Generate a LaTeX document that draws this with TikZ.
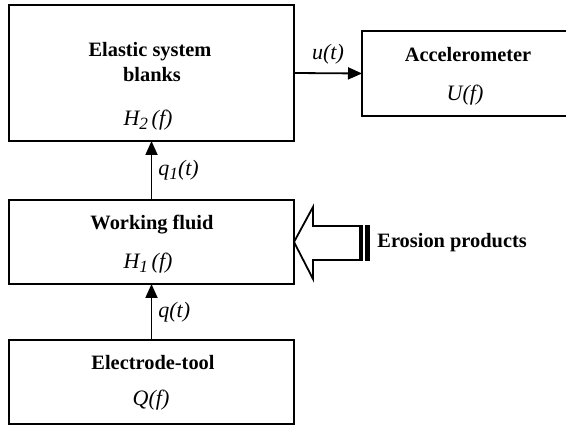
\documentclass[tikz,border=0pt]{standalone}
\usepackage{fontspec}
\setmainfont{Liberation Serif}
\usetikzlibrary{arrows.meta}
\newcommand{\lowidx}[1]{\raisebox{-0.4ex}{\fontsize{8.6}{10}\selectfont #1}}
\begin{document}
\begin{tikzpicture}[x=0.5pt, y=-0.5pt,
  box/.style={rectangle, draw, line width=1.3pt, minimum width=142.5pt, minimum height=42pt, inner sep=0pt, outer sep=0pt},
  title/.style={font=\fontsize{10.2}{12}\selectfont\bfseries, inner sep=0pt},
  func/.style={font=\fontsize{11}{13}\selectfont\itshape, inner sep=0pt},
  sig/.style={-{Triangle[length=7pt, width=6pt]}, line width=0.9pt},
  hollow/.style={draw, line width=0.9pt, line join=miter}
]
\useasboundingbox (0,0) rectangle (566,426);

% Boxes
\node[box, minimum height=68pt] (elastic) at (151.5,73) {};
\node[box, minimum width=103pt, minimum height=42.5pt] (accel) at (465,73.5) {};
\node[box] (wf) at (151.5,242) {};
\node[box] (elec) at (151.5,382) {};

% Texts
\node[title] (elastic1) at (150,52) {Elastic system};
\node[title] (elastic2) at (152,75) {blanks};
\node[func] (h2) at (148,120) {H\lowidx{2}\,(f)};
\node[title] (acctext) at (468,55) {Accelerometer};
\node[func] (uf) at (465,95) {U(f)};
\node[title] (wftext) at (152,225) {Working fluid};
\node[func] (h1) at (148,263) {H\lowidx{1}\,(f)};
\node[title] (electext) at (153,363) {Electrode-tool};
\node[func] (qf) at (151,400) {Q(f)};

% Signals
\draw[sig] (elastic.east) -- (accel.west) node[func, midway, above=4pt] (ut) {u(t)};
\draw[sig] (wf.north) -- (elastic.south) node[func, midway, right=3pt] (q1t) {q\lowidx{1}(t)};
\draw[sig] (elec.north) -- (wf.south) node[func, midway, right=3pt] (qt) {q(t)};

% Erosion products
\coordinate (tip) at (wf.east);
\draw[hollow] (tip) -- ++(19,-35) -- ++(0,19) -- ++(47,0) -- ++(0,34) -- ++(-47,0) -- ++(0,19) -- cycle;
\draw[line width=1.4pt] (361.5,225) -- (361.5,261);
\fill (365,225) rectangle (370,261);
\node[title, anchor=west] (erosion) at (377,243) {Erosion products};
\end{tikzpicture}
\end{document}
